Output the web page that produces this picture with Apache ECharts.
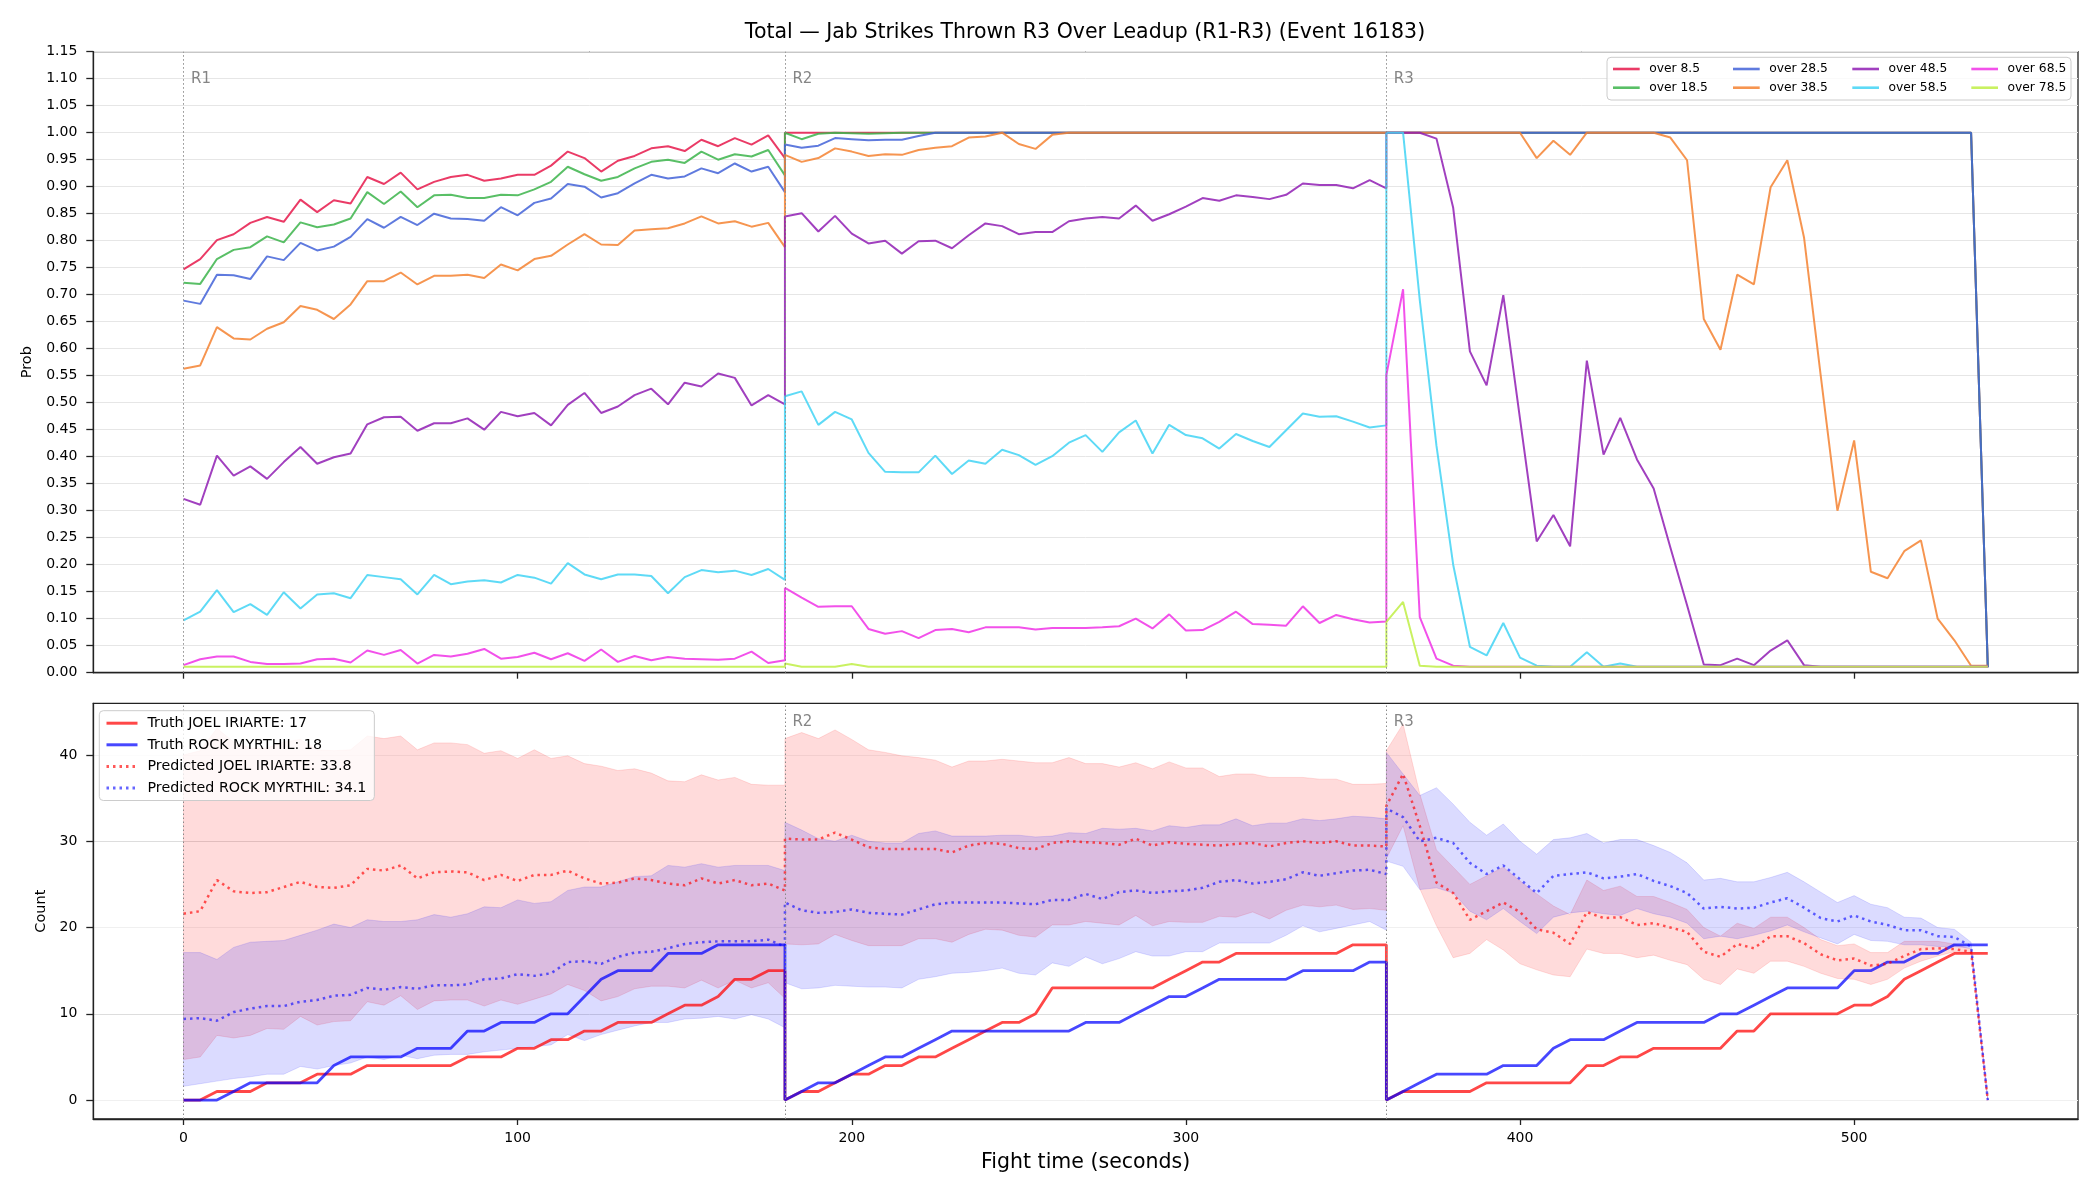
<!DOCTYPE html>
<html>
<head>
<meta charset="utf-8">
<script src="https://cdn.jsdelivr.net/npm/echarts@6/dist/echarts.min.js"></script>
<style>
  html, body { margin: 0; padding: 0; background: #fff; }
  #chart { width: 2100px; height: 1200px; }
</style>
</head>
<body>
<div id="chart"></div>
<script>
// round layout: every round is sampled every 5 s from its start
const ROUND_STARTS = [0, 180, 360];
const ROUND_LABELS = ["R1", "R2", "R3"];
const SAMPLE_T = [0, 5, 10, 15, 20, 25, 30, 35, 40, 45, 50, 55, 60, 65, 70, 75, 80, 85, 90, 95, 100,
  105, 110, 115, 120, 125, 130, 135, 140, 145, 150, 155, 160, 165, 170, 175, 180];
const X_TICKS = [0, 100, 200, 300, 400, 500];
const COUNT_TICKS = [0, 10, 20, 30, 40];

// ---- top panel: P(total jabs > line), one array per round ----
const OVER_8_5 = [
  [0.747, 0.766, 0.801, 0.812, 0.833, 0.844, 0.835, 0.876, 0.853, 0.875, 0.869, 0.918, 0.905, 0.926, 0.895, 0.909, 0.918, 0.922, 0.911, 0.915, 0.922, 0.922, 0.939, 0.965, 0.953, 0.928, 0.948, 0.957, 0.971, 0.975, 0.966, 0.987, 0.975, 0.990, 0.978, 0.995, 0.953],
  [1, 1, 1, 1, 1, 1, 1, 1, 1, 1, 1, 1, 1, 1, 1, 1, 1, 1, 1, 1, 1, 1, 1, 1, 1, 1, 1, 1, 1, 1, 1, 1, 1, 1, 1, 1, 1],
  [1, 1, 1, 1, 1, 1, 1, 1, 1, 1, 1, 1, 1, 1, 1, 1, 1, 1, 1, 1, 1, 1, 1, 1, 1, 1, 1, 1, 1, 1, 1, 1, 1, 1, 1, 1, 0.01],
];
const OVER_18_5 = [
  [0.722, 0.720, 0.766, 0.783, 0.788, 0.808, 0.797, 0.834, 0.825, 0.830, 0.841, 0.890, 0.868, 0.891, 0.862, 0.884, 0.885, 0.879, 0.879, 0.885, 0.884, 0.895, 0.909, 0.937, 0.923, 0.911, 0.918, 0.934, 0.946, 0.950, 0.944, 0.965, 0.950, 0.960, 0.956, 0.968, 0.921],
  [1, 0.988, 0.998, 1, 0.999, 0.998, 0.999, 1, 1, 1, 1, 1, 1, 1, 1, 1, 1, 1, 1, 1, 1, 1, 1, 1, 1, 1, 1, 1, 1, 1, 1, 1, 1, 1, 1, 1, 1],
  [1, 1, 1, 1, 1, 1, 1, 1, 1, 1, 1, 1, 1, 1, 1, 1, 1, 1, 1, 1, 1, 1, 1, 1, 1, 1, 1, 1, 1, 1, 1, 1, 1, 1, 1, 1, 0.01],
];
const OVER_28_5 = [
  [0.689, 0.683, 0.737, 0.736, 0.729, 0.771, 0.764, 0.796, 0.782, 0.789, 0.807, 0.840, 0.824, 0.844, 0.829, 0.850, 0.841, 0.840, 0.837, 0.862, 0.847, 0.870, 0.878, 0.905, 0.900, 0.880, 0.888, 0.906, 0.922, 0.915, 0.919, 0.934, 0.925, 0.943, 0.928, 0.937, 0.890],
  [0.978, 0.972, 0.976, 0.990, 0.988, 0.986, 0.987, 0.987, 0.994, 1, 1, 1, 1, 1, 1, 1, 1, 1, 1, 1, 1, 1, 1, 1, 1, 1, 1, 1, 1, 1, 1, 1, 1, 1, 1, 1, 1],
  [1, 1, 1, 1, 1, 1, 1, 1, 1, 1, 1, 1, 1, 1, 1, 1, 1, 1, 1, 1, 1, 1, 1, 1, 1, 1, 1, 1, 1, 1, 1, 1, 1, 1, 1, 1, 0.01],
];
const OVER_38_5 = [
  [0.563, 0.569, 0.640, 0.619, 0.617, 0.637, 0.649, 0.679, 0.672, 0.655, 0.682, 0.725, 0.725, 0.741, 0.719, 0.735, 0.735, 0.737, 0.731, 0.756, 0.745, 0.766, 0.772, 0.793, 0.812, 0.793, 0.792, 0.819, 0.821, 0.823, 0.832, 0.845, 0.832, 0.836, 0.826, 0.833, 0.788],
  [0.959, 0.946, 0.953, 0.971, 0.965, 0.957, 0.960, 0.959, 0.968, 0.972, 0.975, 0.991, 0.993, 1, 0.979, 0.970, 0.996, 1, 1, 1, 1, 1, 1, 1, 1, 1, 1, 1, 1, 1, 1, 1, 1, 1, 1, 1, 1],
  [1, 1, 1, 1, 1, 1, 1, 1, 1, 0.953, 0.985, 0.959, 1, 1, 1, 1, 1, 0.991, 0.949, 0.655, 0.598, 0.737, 0.719, 0.899, 0.949, 0.806, 0.55, 0.300, 0.430, 0.187, 0.175, 0.225, 0.245, 0.100, 0.060, 0.013, 0.013],
];
const OVER_48_5 = [
  [0.322, 0.311, 0.402, 0.365, 0.382, 0.359, 0.390, 0.418, 0.387, 0.399, 0.406, 0.460, 0.473, 0.474, 0.448, 0.462, 0.462, 0.471, 0.450, 0.483, 0.475, 0.481, 0.458, 0.496, 0.518, 0.481, 0.493, 0.514, 0.526, 0.497, 0.537, 0.530, 0.554, 0.546, 0.495, 0.514, 0.497],
  [0.845, 0.851, 0.817, 0.846, 0.813, 0.795, 0.800, 0.776, 0.799, 0.800, 0.786, 0.810, 0.832, 0.827, 0.812, 0.816, 0.816, 0.836, 0.841, 0.844, 0.841, 0.865, 0.837, 0.849, 0.863, 0.879, 0.874, 0.884, 0.881, 0.877, 0.885, 0.906, 0.903, 0.903, 0.897, 0.912, 0.897],
  [1, 1, 1, 0.989, 0.861, 0.595, 0.532, 0.699, 0.47, 0.243, 0.292, 0.234, 0.578, 0.404, 0.472, 0.395, 0.341, 0.232, 0.125, 0.015, 0.014, 0.026, 0.014, 0.041, 0.060, 0.014, 0.011, 0.011, 0.011, 0.011, 0.011, 0.011, 0.011, 0.011, 0.011, 0.011, 0.011],
];
const OVER_58_5 = [
  [0.097, 0.113, 0.153, 0.112, 0.127, 0.107, 0.149, 0.119, 0.145, 0.147, 0.138, 0.181, 0.177, 0.173, 0.145, 0.181, 0.164, 0.169, 0.171, 0.167, 0.181, 0.176, 0.165, 0.203, 0.182, 0.173, 0.182, 0.182, 0.179, 0.147, 0.177, 0.190, 0.186, 0.189, 0.181, 0.192, 0.172],
  [0.512, 0.521, 0.459, 0.483, 0.469, 0.407, 0.372, 0.371, 0.371, 0.402, 0.368, 0.393, 0.387, 0.413, 0.403, 0.385, 0.401, 0.426, 0.440, 0.409, 0.445, 0.467, 0.406, 0.459, 0.440, 0.434, 0.415, 0.442, 0.429, 0.418, 0.449, 0.480, 0.474, 0.475, 0.465, 0.454, 0.458],
  [1, 1, 0.69, 0.42, 0.20, 0.048, 0.032, 0.092, 0.028, 0.013, 0.011, 0.011, 0.038, 0.011, 0.017, 0.011, 0.011, 0.011, 0.011, 0.011, 0.011, 0.011, 0.011, 0.011, 0.011, 0.011, 0.011, 0.011, 0.011, 0.011, 0.011, 0.011, 0.011, 0.011, 0.011, 0.011, 0.011],
];
const OVER_68_5 = [
  [0.014, 0.025, 0.030, 0.030, 0.020, 0.016, 0.016, 0.017, 0.025, 0.026, 0.019, 0.041, 0.033, 0.042, 0.017, 0.033, 0.030, 0.035, 0.044, 0.026, 0.029, 0.037, 0.025, 0.036, 0.022, 0.043, 0.020, 0.031, 0.023, 0.029, 0.026, 0.025, 0.024, 0.026, 0.039, 0.018, 0.023],
  [0.157, 0.139, 0.122, 0.123, 0.123, 0.081, 0.072, 0.077, 0.064, 0.079, 0.081, 0.075, 0.084, 0.084, 0.084, 0.080, 0.083, 0.083, 0.083, 0.084, 0.086, 0.100, 0.082, 0.108, 0.078, 0.079, 0.094, 0.113, 0.090, 0.089, 0.087, 0.123, 0.092, 0.107, 0.099, 0.093, 0.095],
  [0.551, 0.710, 0.103, 0.026, 0.013, 0.011, 0.011, 0.011, 0.011, 0.011, 0.011, 0.011, 0.011, 0.011, 0.011, 0.011, 0.011, 0.011, 0.011, 0.011, 0.011, 0.011, 0.011, 0.011, 0.011, 0.011, 0.011, 0.011, 0.011, 0.011, 0.011, 0.011, 0.011, 0.011, 0.011, 0.011, 0.011],
];
const OVER_78_5 = [
  [0.011, 0.011, 0.011, 0.011, 0.011, 0.011, 0.011, 0.011, 0.011, 0.011, 0.011, 0.011, 0.011, 0.011, 0.011, 0.011, 0.011, 0.011, 0.011, 0.011, 0.011, 0.011, 0.011, 0.011, 0.011, 0.011, 0.011, 0.011, 0.011, 0.011, 0.011, 0.011, 0.011, 0.011, 0.011, 0.011, 0.011],
  [0.017, 0.011, 0.011, 0.011, 0.016, 0.011, 0.011, 0.011, 0.011, 0.011, 0.011, 0.011, 0.011, 0.011, 0.011, 0.011, 0.011, 0.011, 0.011, 0.011, 0.011, 0.011, 0.011, 0.011, 0.011, 0.011, 0.011, 0.011, 0.011, 0.011, 0.011, 0.011, 0.011, 0.011, 0.011, 0.011, 0.011],
  [0.094, 0.131, 0.013, 0.011, 0.011, 0.011, 0.011, 0.011, 0.011, 0.011, 0.011, 0.011, 0.011, 0.011, 0.011, 0.011, 0.011, 0.011, 0.011, 0.011, 0.011, 0.011, 0.011, 0.011, 0.011, 0.011, 0.011, 0.011, 0.011, 0.011, 0.011, 0.011, 0.011, 0.011, 0.011, 0.011, 0.011],
];
const PROB_NAMES = ["over 8.5", "over 18.5", "over 28.5", "over 38.5", "over 48.5", "over 58.5", "over 68.5", "over 78.5"];
const PROB_DATA = [OVER_8_5, OVER_18_5, OVER_28_5, OVER_38_5, OVER_48_5, OVER_58_5, OVER_68_5, OVER_78_5];
const PROB_COLORS = ["#e6194b", "#3cb44b", "#4363d8", "#f58231", "#911eb4", "#42d4f4", "#f032e6", "#bfef45"];

// ---- bottom panel: cumulative jab counts ----
const TRUTH_JOEL = [
  [0, 0, 1, 1, 1, 2, 2, 2, 3, 3, 3, 4, 4, 4, 4, 4, 4, 5, 5, 5, 6, 6, 7, 7, 8, 8, 9, 9, 9, 10, 11, 11, 12, 14, 14, 15, 15],
  [0, 1, 1, 2, 3, 3, 4, 4, 5, 5, 6, 7, 8, 9, 9, 10, 13, 13, 13, 13, 13, 13, 13, 14, 15, 16, 16, 17, 17, 17, 17, 17, 17, 17, 18, 18, 18],
  [0, 1, 1, 1, 1, 1, 2, 2, 2, 2, 2, 2, 4, 4, 5, 5, 6, 6, 6, 6, 6, 8, 8, 10, 10, 10, 10, 10, 11, 11, 12, 14, 15, 16, 17, 17, 17],
];
const TRUTH_ROCK = [
  [0, 0, 0, 1, 2, 2, 2, 2, 2, 4, 5, 5, 5, 5, 6, 6, 6, 8, 8, 9, 9, 9, 10, 10, 12, 14, 15, 15, 15, 17, 17, 17, 18, 18, 18, 18, 18],
  [0, 1, 2, 2, 3, 4, 5, 5, 6, 7, 8, 8, 8, 8, 8, 8, 8, 8, 9, 9, 9, 10, 11, 12, 12, 13, 14, 14, 14, 14, 14, 15, 15, 15, 15, 16, 16],
  [0, 1, 2, 3, 3, 3, 3, 4, 4, 4, 6, 7, 7, 7, 8, 9, 9, 9, 9, 9, 10, 10, 11, 12, 13, 13, 13, 13, 15, 15, 16, 16, 17, 17, 18, 18, 18],
];
const PRED_JOEL = [
  [21.6, 21.9, 25.5, 24.2, 24.0, 24.1, 24.7, 25.3, 24.7, 24.6, 24.9, 26.8, 26.6, 27.2, 25.7, 26.4, 26.5, 26.4, 25.5, 26.1, 25.4, 26.1, 26.1, 26.6, 25.7, 25.1, 25.2, 25.7, 25.5, 25.1, 24.9, 25.7, 25.1, 25.5, 24.9, 25.1, 24.3],
  [30.3, 30.2, 30.2, 31.0, 30.2, 29.3, 29.1, 29.1, 29.1, 29.1, 28.7, 29.5, 29.8, 29.7, 29.2, 29.1, 29.8, 30.0, 29.9, 29.8, 29.6, 30.3, 29.5, 29.9, 29.7, 29.6, 29.5, 29.7, 29.8, 29.4, 29.8, 30.0, 29.8, 30.0, 29.5, 29.5, 29.4],
  [34.1, 37.8, 31.8, 25.2, 24.0, 20.9, 21.9, 22.9, 21.8, 19.8, 19.4, 18.1, 21.8, 21.1, 21.2, 20.3, 20.5, 20.0, 19.5, 17.2, 16.6, 18.1, 17.6, 19.0, 19.0, 18.2, 16.9, 16.2, 16.4, 15.6, 15.8, 16.7, 17.5, 17.6, 17.5, 17.2, 0],
];
const PRED_ROCK = [
  [9.4, 9.5, 9.2, 10.2, 10.6, 10.9, 10.9, 11.4, 11.6, 12.1, 12.2, 13.0, 12.8, 13.1, 12.9, 13.3, 13.3, 13.4, 14.0, 14.1, 14.6, 14.4, 14.7, 16.0, 16.1, 15.8, 16.6, 17.1, 17.2, 17.6, 18.1, 18.3, 18.4, 18.4, 18.4, 18.6, 17.8],
  [22.9, 22.0, 21.7, 21.8, 22.1, 21.7, 21.6, 21.5, 22.1, 22.7, 22.9, 22.9, 22.9, 22.9, 22.8, 22.7, 23.2, 23.2, 23.9, 23.3, 24.1, 24.3, 24.0, 24.2, 24.3, 24.6, 25.3, 25.5, 25.1, 25.3, 25.6, 26.4, 26.0, 26.3, 26.6, 26.7, 26.2],
  [33.8, 32.8, 30.0, 30.4, 29.8, 27.5, 26.2, 27.2, 25.6, 24.0, 26.0, 26.2, 26.4, 25.7, 25.9, 26.2, 25.4, 24.8, 24.0, 22.2, 22.4, 22.2, 22.3, 22.9, 23.4, 22.3, 21.1, 20.7, 21.4, 20.7, 20.3, 19.7, 19.7, 19.0, 18.9, 17.8, 0],
];
const BAND_JOEL_HI = [
  [40.0, 40.5, 43.1, 41.5, 40.8, 40.8, 41.5, 41.8, 40.6, 40.5, 40.6, 42.2, 41.9, 42.2, 40.6, 41.4, 41.4, 41.2, 40.2, 40.5, 39.6, 40.6, 39.6, 39.9, 39.0, 38.7, 38.2, 38.4, 37.9, 37.0, 36.9, 37.7, 37.1, 37.4, 36.6, 36.5, 36.5],
  [41.9, 42.6, 41.9, 42.9, 41.8, 40.6, 40.3, 39.9, 39.7, 39.4, 38.6, 39.3, 39.3, 39.5, 39.3, 39.1, 39.1, 39.7, 39.0, 39.0, 38.6, 39.1, 38.4, 39.2, 38.5, 38.5, 37.5, 37.8, 37.8, 37.4, 37.4, 37.4, 37.2, 37.2, 36.6, 36.6, 36.7],
  [40.5, 43.6, 35.5, 29.0, 27.0, 25.0, 26.0, 27.0, 25.4, 23.9, 22.5, 21.5, 25.5, 24.3, 24.8, 23.6, 23.6, 22.9, 22.1, 20.0, 19.0, 20.5, 19.9, 21.2, 21.2, 20.0, 18.6, 17.9, 18.1, 17.1, 17.1, 18.4, 18.4, 18.4, 18.1, 17.5, 0],
];
const BAND_JOEL_LO = [
  [4.7, 5.0, 7.5, 7.2, 7.5, 8.3, 8.2, 9.7, 8.7, 9.1, 9.2, 11.4, 11.0, 12.1, 10.5, 11.5, 11.6, 11.6, 10.9, 11.6, 11.1, 11.7, 12.3, 13.4, 12.7, 11.5, 12.0, 12.9, 13.2, 13.2, 13.0, 13.9, 13.0, 13.9, 13.0, 13.6, 11.8],
  [18.1, 18.0, 18.1, 19.2, 18.5, 17.9, 17.9, 17.9, 18.7, 18.7, 18.3, 19.2, 19.8, 19.7, 19.1, 18.9, 20.3, 20.3, 20.7, 20.5, 20.3, 21.4, 20.2, 20.7, 20.6, 20.6, 21.3, 21.2, 21.8, 21.0, 22.0, 22.6, 22.4, 22.6, 22.1, 22.2, 22.0],
  [28.0, 31.8, 24.5, 20.2, 16.5, 17.0, 18.6, 17.4, 15.8, 15.1, 14.5, 14.3, 17.5, 17.0, 17.0, 16.5, 16.8, 16.2, 15.7, 14.0, 13.4, 15.2, 14.7, 16.1, 16.1, 15.5, 14.7, 14.1, 14.0, 13.4, 14.0, 15.3, 16.1, 16.7, 17.2, 17.1, 0],
];
const BAND_ROCK_HI = [
  [17.1, 17.1, 16.3, 17.7, 18.3, 18.4, 18.5, 19.1, 19.7, 20.4, 20.0, 20.9, 20.7, 20.7, 20.9, 21.5, 21.2, 21.6, 22.4, 22.3, 23.2, 22.8, 23.0, 24.3, 24.7, 24.7, 25.3, 25.9, 26.0, 27.2, 27.0, 27.4, 27.0, 27.2, 27.2, 27.2, 26.6],
  [32.2, 31.3, 30.3, 30.0, 30.7, 30.0, 29.8, 29.8, 30.9, 31.2, 30.6, 30.6, 30.6, 30.7, 30.7, 30.5, 30.6, 31.0, 30.9, 31.5, 31.4, 31.5, 31.2, 31.8, 31.6, 31.9, 31.9, 32.6, 31.8, 32.1, 32.1, 32.6, 32.4, 32.6, 32.9, 32.8, 32.6],
  [40.3, 37.8, 35.3, 36.2, 34.3, 32.2, 30.7, 32.0, 30.0, 28.5, 30.2, 30.4, 30.9, 29.8, 30.2, 30.2, 29.5, 28.7, 27.5, 25.5, 25.7, 25.3, 25.3, 25.8, 26.4, 25.3, 24.1, 22.9, 23.7, 22.7, 22.3, 21.2, 21.1, 20.0, 19.8, 18.3, 0],
];
const BAND_ROCK_LO = [
  [1.6, 1.9, 2.2, 2.5, 2.7, 3.0, 3.0, 3.9, 3.6, 4.0, 4.3, 5.0, 4.7, 5.2, 4.8, 5.2, 5.3, 5.3, 5.6, 5.8, 6.0, 6.2, 6.4, 7.6, 6.9, 7.6, 8.1, 8.6, 9.0, 9.0, 9.4, 9.5, 9.7, 9.4, 9.9, 9.4, 8.4],
  [13.6, 12.9, 13.0, 13.3, 13.2, 13.1, 13.1, 13.0, 14.0, 14.3, 14.7, 14.8, 15.0, 15.3, 14.7, 14.5, 15.9, 15.5, 16.6, 15.8, 16.4, 17.2, 16.7, 16.7, 17.2, 17.2, 18.2, 18.2, 18.2, 18.2, 19.1, 20.2, 19.5, 19.9, 20.3, 20.7, 19.7],
  [27.7, 27.1, 24.4, 24.6, 24.0, 21.9, 20.9, 22.2, 20.7, 19.3, 21.2, 21.7, 21.9, 21.6, 21.4, 22.2, 21.6, 21.2, 20.5, 18.7, 19.0, 18.7, 19.1, 19.6, 20.3, 19.5, 18.8, 18.1, 19.2, 18.5, 18.4, 18.0, 18.0, 17.8, 17.8, 17.6, 0],
];

const FONT = "DejaVu Sans";
const SPINE = "#222";

// join the three rounds into one [time, value] path
function toPoints(rounds) {
  const pts = [];
  rounds.forEach((vals, r) => {
    vals.forEach((v, i) => pts.push([ROUND_STARTS[r] + SAMPLE_T[i], v]));
  });
  return pts;
}

function bandSeries(hi, lo, fill, edge) {
  const up = toPoints(hi);
  const down = toPoints(lo).reverse();
  return {
    type: "custom",
    xAxisIndex: 1,
    yAxisIndex: 1,
    silent: true,
    z: 1,
    data: [up[0]],
    renderItem: (params, api) => ({
      type: "polygon",
      shape: { points: up.concat(down).map((p) => api.coord(p)) },
      style: { fill, stroke: edge, lineWidth: 1 },
    }),
  };
}

function roundMarks() {
  return {
    silent: true,
    symbol: ["none", "none"],
    label: { show: false },
    lineStyle: { color: "#8a8a8a", type: [1.5, 2.5], width: 1, opacity: 1 },
    data: ROUND_STARTS.map((x) => ({ xAxis: x })),
  };
}

function roundLabels(gridIdx, yVal, which) {
  return {
    type: "scatter",
    xAxisIndex: gridIdx,
    yAxisIndex: gridIdx,
    silent: true,
    symbolSize: 1,
    itemStyle: { color: "rgba(0,0,0,0)" },
    z: 3,
    data: which.map((i) => [ROUND_STARTS[i], yVal, ROUND_LABELS[i]]),
    label: {
      show: true,
      position: "right",
      distance: 7,
      formatter: (p) => p.value[2],
      color: "#666",
      fontSize: 15,
      fontFamily: FONT,
    },
  };
}

const probSeries = PROB_NAMES.map((name, i) => ({
  name,
  type: "line",
  xAxisIndex: 0,
  yAxisIndex: 0,
  data: toPoints(PROB_DATA[i]),
  symbol: "none",
  color: PROB_COLORS[i],
  lineStyle: { width: 2, color: PROB_COLORS[i], opacity: 0.85 },
  z: 2,
  markLine: i === PROB_NAMES.length - 1 ? roundMarks() : undefined,
}));

const TRUTH_RED = "rgba(255,0,0,0.72)";
const TRUTH_BLUE = "rgba(0,0,255,0.72)";
const PRED_RED = "rgba(255,0,0,0.65)";
const PRED_BLUE = "rgba(0,0,255,0.6)";

const countSeries = [
  bandSeries(BAND_JOEL_HI, BAND_JOEL_LO, "rgba(255,0,0,0.14)", "rgba(255,0,0,0.12)"),
  bandSeries(BAND_ROCK_HI, BAND_ROCK_LO, "rgba(0,0,255,0.14)", "rgba(0,0,255,0.12)"),
  {
    name: "Truth JOEL IRIARTE: 17",
    type: "line", xAxisIndex: 1, yAxisIndex: 1,
    data: toPoints(TRUTH_JOEL), symbol: "none", color: TRUTH_RED,
    lineStyle: { width: 2.8, color: TRUTH_RED }, z: 3,
    markLine: roundMarks(),
  },
  {
    name: "Truth ROCK MYRTHIL: 18",
    type: "line", xAxisIndex: 1, yAxisIndex: 1,
    data: toPoints(TRUTH_ROCK), symbol: "none", color: TRUTH_BLUE,
    lineStyle: { width: 2.8, color: TRUTH_BLUE }, z: 3,
  },
  {
    name: "Predicted JOEL IRIARTE: 33.8",
    type: "line", xAxisIndex: 1, yAxisIndex: 1,
    data: toPoints(PRED_JOEL), symbol: "none", color: PRED_RED,
    lineStyle: { width: 2.5, color: PRED_RED, type: [2.5, 4] }, z: 4,
  },
  {
    name: "Predicted ROCK MYRTHIL: 34.1",
    type: "line", xAxisIndex: 1, yAxisIndex: 1,
    data: toPoints(PRED_ROCK), symbol: "none", color: PRED_BLUE,
    lineStyle: { width: 2.5, color: PRED_BLUE, type: [2.5, 4] }, z: 4,
  },
];

function xAxis(gridIndex, withLabels) {
  return {
    type: "value",
    gridIndex,
    min: -27,
    max: 567,
    minInterval: 100,
    maxInterval: 100,
    axisLine: { show: true, onZero: false, lineStyle: { color: SPINE, width: 1.3 } },
    axisTick: { show: true, length: 6, customValues: X_TICKS, lineStyle: { color: SPINE, width: 1.3 } },
    axisLabel: {
      show: withLabels,
      customValues: X_TICKS,
      margin: 12,
      color: "#000",
      fontSize: 14,
      fontFamily: FONT,
    },
    splitLine: { show: false },
    name: withLabels ? "Fight time (seconds)" : "",
    nameLocation: "middle",
    nameGap: 33,
    nameTextStyle: { color: "#000", fontSize: 20.5, fontFamily: FONT },
  };
}

const legendText = { color: "#000", fontFamily: FONT, fontSize: 12.3, padding: [0, 0, 0, 4.5] };
const LEGEND_COLS = [1611.7, 1731.7, 1851, 1970];
const topLegends = LEGEND_COLS.map((left, c) => ({
  orient: "vertical",
  left,
  top: 63,
  padding: 0,
  itemWidth: 26.7,
  itemHeight: 12,
  itemGap: 6.7,
  selectedMode: false,
  z: 6,
  itemStyle: { opacity: 0 },
  lineStyle: { width: 2.6 },
  data: [PROB_NAMES[c * 2], PROB_NAMES[c * 2 + 1]],
  textStyle: legendText,
}));

const option = {
  animation: false,
  backgroundColor: "#fff",
  title: {
    text: "Total — Jab Strikes Thrown R3 Over Leadup (R1-R3) (Event 16183)",
    left: 1085,
    top: 22,
    textAlign: "center",
    padding: 0,
    textStyle: { color: "#000", fontSize: 20.5, fontWeight: "normal", fontFamily: FONT },
  },
  grid: [
    { left: 93.3, right: 22, top: 51.7, height: 621, show: true, borderColor: SPINE, borderWidth: 1.3, backgroundColor: "transparent" },
    { left: 93.3, right: 22, top: 703.3, height: 415.7, show: true, borderColor: SPINE, borderWidth: 1.3, backgroundColor: "transparent" },
  ],
  xAxis: [xAxis(0, false), xAxis(1, true)],
  yAxis: [
    {
      type: "value",
      gridIndex: 0,
      min: 0,
      max: 1.15,
      interval: 0.05,
      axisLine: { show: true, onZero: false, lineStyle: { color: SPINE, width: 1.3 } },
      axisTick: { show: true, length: 7, lineStyle: { color: SPINE, width: 1.3 } },
      axisLabel: { margin: 16, color: "#000", fontSize: 14, fontFamily: FONT, formatter: (v) => v.toFixed(2) },
      splitLine: { show: true, lineStyle: { color: "#e6e6e6", width: 1 } },
      name: "Prob",
      nameLocation: "middle",
      nameGap: 57,
      nameTextStyle: { color: "#000", fontSize: 14.5, fontFamily: FONT },
    },
    {
      type: "value",
      gridIndex: 1,
      min: -2.19,
      max: 45.99,
      minInterval: 5,
      maxInterval: 5,
      axisLine: { show: true, onZero: false, lineStyle: { color: SPINE, width: 1.3 } },
      axisTick: { show: true, length: 7, customValues: COUNT_TICKS, lineStyle: { color: SPINE, width: 1.3 } },
      axisLabel: {
        margin: 16, color: "#000", fontSize: 14, fontFamily: FONT,
        customValues: COUNT_TICKS,
        formatter: (v) => (Math.abs(v % 10) < 1e-6 ? String(Math.round(v)) : ""),
      },
      splitLine: { show: true, lineStyle: { color: ["#f0f0f0", "#dddddd"], width: 1 } },
      name: "Count",
      nameLocation: "middle",
      nameGap: 45,
      nameTextStyle: { color: "#000", fontSize: 14.5, fontFamily: FONT },
    },
  ],
  legend: [
    ...topLegends,
    {
      orient: "vertical",
      left: 99.3,
      top: 710.7,
      padding: [5.5, 8, 5.5, 5.7],
      itemWidth: 31,
      itemHeight: 14,
      itemGap: 7.6,
      selectedMode: false,
      backgroundColor: "rgba(255,255,255,0.8)",
      borderColor: "#cccccc",
      borderWidth: 1,
      borderRadius: 4,
      z: 6,
      itemStyle: { opacity: 0 },
      lineStyle: { width: 3 },
      data: countSeries.filter((s) => s.name).map((s) => s.name),
      textStyle: { color: "#000", fontFamily: FONT, fontSize: 14.25, padding: [0, 0, 0, 5] },
    },
  ],
  graphic: [
    {
      type: "rect",
      z: 5,
      silent: true,
      shape: { x: 1607, y: 57.3, width: 464, height: 42.7, r: 4 },
      style: { fill: "rgba(255,255,255,0.8)", stroke: "#cccccc", lineWidth: 1 },
    },
  ],
  series: [
    ...probSeries,
    roundLabels(0, 1.1, [0, 1, 2]),
    ...countSeries,
    roundLabels(1, 43.8, [1, 2]),
  ],
};

const chart = echarts.init(document.getElementById("chart"), null, { renderer: "canvas" });
chart.setOption(option);
</script>
</body>
</html>
